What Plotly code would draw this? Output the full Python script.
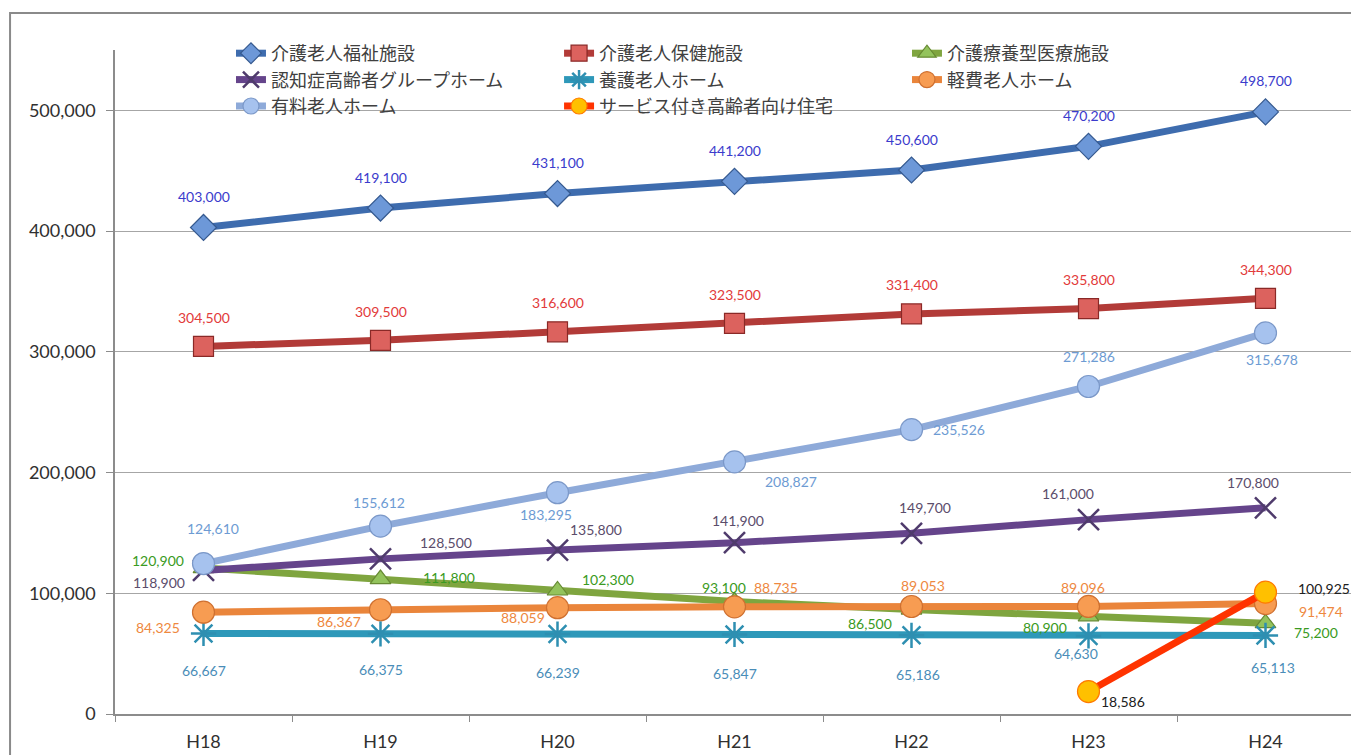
import plotly.graph_objects as go

categories = ["H18", "H19", "H20", "H21", "H22", "H23", "H24"]

names = ["介護老人福祉施設", "介護老人保健施設", "介護療養型医療施設",
         "認知症高齢者グループホーム", "養護老人ホーム", "軽費老人ホーム",
         "有料老人ホーム", "サービス付き高齢者向け住宅"]

fukushi = [403000, 419100, 431100, 441200, 450600, 470200, 498700]
hoken = [304500, 309500, 316600, 323500, 331400, 335800, 344300]
ryoyo = [120900, 111800, 102300, 93100, 86500, 80900, 75200]
ninchi = [118900, 128500, 135800, 141900, 149700, 161000, 170800]
yogo = [66667, 66375, 66239, 65847, 65186, 64630, 65113]
keihi = [84325, 86367, 88059, 88735, 89053, 89096, 91474]
yuryo = [124610, 155612, 183295, 208827, 235526, 271286, 315678]
sakoju = [None, None, None, None, None, 18586, 100925]

series = [fukushi, hoken, ryoyo, ninchi, yogo, keihi, yuryo, sakoju]

# styles
line_colors = ["#3e6cae", "#b23b38", "#7fa53f", "#65448b", "#2e98b9", "#ea853b", "#8eaad9", "#ff3300"]
marker_fill = ["#6d98d8", "#dc625e", "#93c35c", "#4f3b6c", "#2e8fb1", "#f79c52", "#a6c2ee", "#ffc000"]
marker_line = ["#35598f", "#8a2927", "#678a33", "#4f3b6c", "#2e8fb1", "#cf7030", "#7b98c8", "#ff7a00"]
symbols = ["diamond", "square", "triangle-up", "x-thin-open", "asterisk-open", "circle", "circle", "circle"]
msizes = [20, 20, 18, 21, 21, 22, 22, 22]
label_colors = ["#3b3bcc", "#e23a3a", "#3a9a22", "#5b4d6b", "#4a8db8", "#ee8840", "#6d9bd3", "#202020"]
legend_ids = ["legend", "legend2", "legend3", "legend", "legend2", "legend3", "legend", "legend2"]

# label offsets in px (dx, dy; dy positive = downward)
offsets = [
    [(0, -31)] * 7,
    [(0, -29)] * 7,
    [(-46, -8), (68, -2), (50, -11), (-11, -14), (-42, 14), (-44, 11), (50, 9)],
    [(-45, 12), (65, -16), (38, -21), (3, -22), (13, -26), (-21, -26), (-13, -25)],
    [(0, 37), (0, 36), (0, 38), (0, 39), (6, 39), (-13, 18), (7, 32)],
    [(-46, 15), (-42, 12), (-35, 10), (41, -19), (11, -21), (-6, -19), (55, 8)],
    [(9, -35), (-2, -24), (-12, 22), (56, 20), (47, 0), (0, -30), (6, 27)],
    [None] * 5 + [(34, 10), (58, -4)],
]

fig = go.Figure()
for i, (nm, vals) in enumerate(zip(names, series)):
    is_line_marker = symbols[i] in ("x-thin-open", "asterisk-open")
    marker = dict(symbol=symbols[i], size=msizes[i], color=marker_fill[i],
                  line=dict(color=marker_line[i], width=2.5 if is_line_marker else 1.2))
    fig.add_trace(go.Scatter(
        x=categories, y=vals, name=nm, mode="lines+markers",
        line=dict(color=line_colors[i], width=7), legend=legend_ids[i],
        marker=marker, connectgaps=False, hoverinfo="skip"))

annotations = []
for i, vals in enumerate(series):
    for j, v in enumerate(vals):
        if v is None:
            continue
        dx, dy = offsets[i][j]
        annotations.append(dict(
            x=categories[j], y=v, xref="x", yref="y", text=f"{v:,}",
            showarrow=False, xshift=dx, yshift=-dy,
            font=dict(family="Lato, Open Sans, sans-serif", size=14, color=label_colors[i])))

legend_font = dict(family="Noto Sans CJK JP, sans-serif", size=18, color="#404040")
def legend_style(xpos):
    return dict(orientation="v", x=xpos, y=1.0226, xanchor="left", yanchor="top",
                bgcolor="rgba(0,0,0,0)", font=legend_font, traceorder="normal")

fig.update_layout(
    width=1351, height=747,
    margin=dict(l=107, r=5, t=42, b=41, autoexpand=False),
    paper_bgcolor="white", plot_bgcolor="white",
    showlegend=True,
    legend=legend_style(0.0936),
    legend2=legend_style(0.3584),
    legend3=legend_style(0.6392),
    annotations=annotations,
    shapes=[dict(type="rect", xref="paper", yref="paper",
                 x0=-0.0847, x1=1.02, y0=-0.2, y1=1.0557,
                 line=dict(color="#8a8a8a", width=2), fillcolor="rgba(0,0,0,0)", layer="below")],
)

fig.update_xaxes(
    type="category", range=[-0.5, 6.5],
    showline=True, linecolor="#8c8c8c", linewidth=1.5,
    ticks="outside", tickson="boundaries", ticklen=6, tickcolor="#8c8c8c",
    showgrid=False, zeroline=False, ticklabelstandoff=11, automargin=False,
    tickfont=dict(family="Lato, sans-serif", size=18, color="#303030"))

fig.update_yaxes(
    range=[0, 550000], dtick=100000, tickformat=",d",
    showline=True, linecolor="#8c8c8c", linewidth=1.5,
    ticks="outside", ticklen=7, tickcolor="#8c8c8c",
    showgrid=True, gridcolor="#a6a6a6", gridwidth=1.2, zeroline=False,
    ticklabelstandoff=7, automargin=False,
    tickfont=dict(family="Lato, sans-serif", size=18, color="#303030"))

fig.write_html("out.html")
